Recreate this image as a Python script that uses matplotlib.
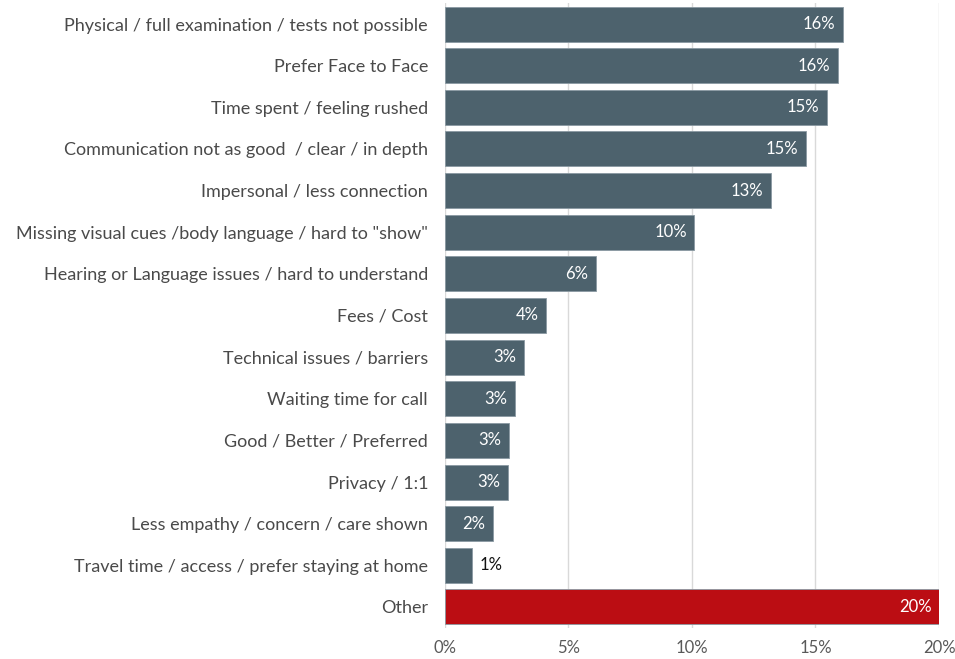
import numpy as np
import matplotlib.pyplot as plt

# reasons given, top to bottom, with share of responses (%)
reasons = [
    'Physical / full examination / tests not possible',
    'Prefer Face to Face',
    'Time spent / feeling rushed',
    'Communication not as good  / clear / in depth',
    'Impersonal / less connection',
    'Missing visual cues /body language / hard to "show"',
    'Hearing or Language issues / hard to understand',
    'Fees / Cost',
    'Technical issues / barriers',
    'Waiting time for call',
    'Good / Better / Preferred',
    'Privacy / 1:1',
    'Less empathy / concern / care shown',
    'Travel time / access / prefer staying at home',
    'Other',
]
shares = [16.1, 15.9, 15.45, 14.6, 13.2, 10.1, 6.1, 4.1, 3.2, 2.85, 2.6, 2.55, 1.95, 1.1, 20.0]
xticks = [0, 5, 10, 15, 20]

plt.rcParams['font.family'] = ['Lato', 'DejaVu Sans']

fig = plt.figure(figsize=(9.55, 6.59), dpi=100)
ax = fig.add_axes([0.4657, 0.0474, 0.5176, 0.9477])

colors = ['#4d626d'] * (len(reasons) - 1) + ['#bb0d13']
y = np.arange(len(reasons))
ax.barh(y, shares, height=0.84, color=colors, edgecolor='#8a99a2', linewidth=0.6, zorder=3)

for i, v in enumerate(shares):
    txt = '%.0f%%' % v
    if v < 1.5:
        ax.text(v + 0.3, i, txt, ha='left', va='center', color='#111111', fontsize=12, zorder=4)
    else:
        ax.text(v - 0.3, i, txt, ha='right', va='center', color='white', fontsize=12, zorder=4)

ax.set_ylim(len(reasons) - 0.5, -0.5)
ax.set_xlim(0, 20)
ax.set_yticks(y)
ax.set_yticklabels(reasons, fontsize=13, color='#4a4a4a')
ax.set_xticks(xticks)
ax.set_xticklabels(['%d%%' % t for t in xticks], fontsize=12, color='#595959')
ax.tick_params(axis='both', length=0)
ax.tick_params(axis='y', pad=12)
ax.tick_params(axis='x', pad=9)
ax.grid(axis='x', color='#d9d9d9', linewidth=1, zorder=0)
for s in ax.spines.values():
    s.set_visible(False)

fig.savefig('out.png', dpi=100)
